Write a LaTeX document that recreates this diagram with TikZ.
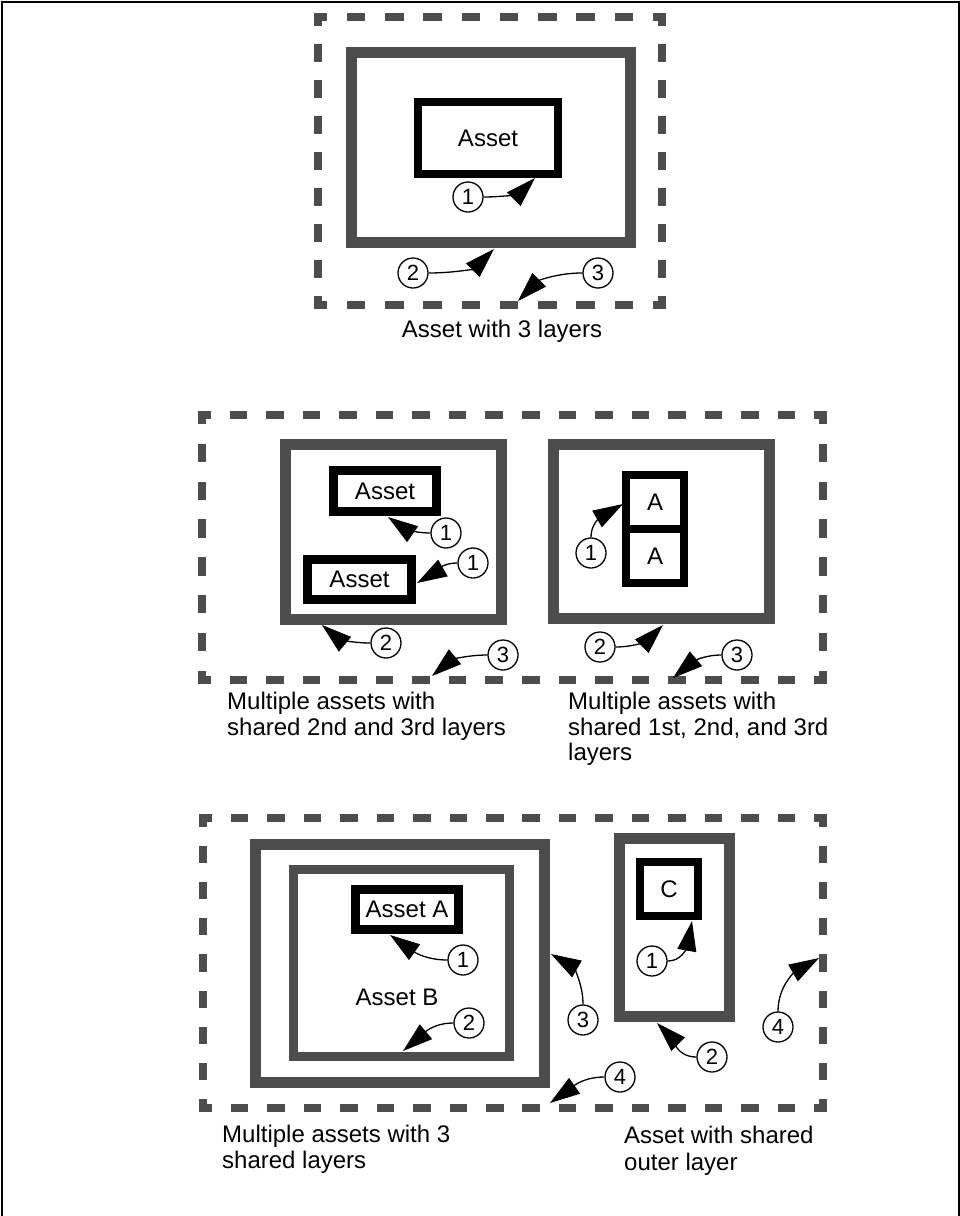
\documentclass[tikz,border=0pt]{standalone}
\usepackage{fontspec}
\setmainfont{Liberation Sans}
\usetikzlibrary{arrows.meta}
\definecolor{layergray}{HTML}{4D4D4D}
\tikzset{
  layer/.style={draw=layergray, line width=11pt, line join=miter},
  thinlayer/.style={draw=layergray, line width=9pt, line join=miter},
  assetbox/.style={draw=black, line width=#1, inner sep=0pt, font=\fontsize{24}{28}\selectfont},
  assetbox/.default=8pt,
  num/.style={draw=black, circle, line width=1.3pt, minimum size=30pt, inner sep=0pt, fill=white, font=\fontsize{22}{24}\selectfont},
  pointer/.style={draw=black, line width=1.3pt, -{Triangle[length=30pt 0 0, width=19pt 0 0]}},
  caption/.style={font=\fontsize{24}{26}\selectfont, inner sep=0pt},
  capline/.style={caption, anchor=base west},
  dashedge/.style={draw=layergray, line width=8pt, line cap=rect},
}
\newcommand\dside[3]{%
  \pgfmathsetmacro\dsd{0.48*#3-8}%
  \pgfmathsetmacro\dsg{0.52*#3+8}%
  \pgfmathsetmacro\dsp{0.24*#3-4}%
  \draw[dashedge, dash pattern=on \dsd pt off \dsg pt, dash phase=\dsp pt] #1 -- #2;}
\newcommand\dbox[6]{% x1 y1 x2 y2 periodH periodV
  \dside{(#1,#2)}{(#3,#2)}{#5}
  \dside{(#1,#4)}{(#3,#4)}{#5}
  \dside{(#1,#2)}{(#1,#4)}{#6}
  \dside{(#3,#2)}{(#3,#4)}{#6}}
\begin{document}
\begin{tikzpicture}[x=1pt, y=-1pt]
\useasboundingbox (0,0) rectangle (960,1216);
% page frame
\draw[line width=2pt] (2,1216) -- (2,2) -- (959,2) -- (959,1216);

% ===== Top: asset with 3 layers =====
\dbox{318}{17}{662}{305}{38.222}{36}
\draw[layer] (351.5,52.5) rectangle (630.5,242.5);
\node[assetbox, minimum width=140pt, minimum height=72pt] (a0) at (488,138) {Asset};
\node[num] (t1) at (468,197) {1};
\node[num] (t2) at (413,273) {2};
\node[num] (t3) at (598,273) {3};
\coordinate (t1p) at (535,178);
\coordinate (t2p) at (494,249);
\coordinate (t3p) at (518,301);
\draw[pointer] (t1.east) to[out=0, in=225] (t1p);
\draw[pointer] (t2.east) to[out=0, in=225] (t2p);
\draw[pointer] (t3.west) to[out=180, in=45] (t3p);
\node[caption, anchor=base] (cap0) at (502,337) {Asset with 3 layers};

% ===== Middle =====
\dbox{202}{415}{823}{680}{36.529}{37.857}
\draw[layer] (285.5,444.5) rectangle (501.5,619.5);
\node[assetbox=9pt, minimum width=103pt, minimum height=41pt] (au) at (385,491) {Asset};
\node[assetbox=9pt, minimum width=104pt, minimum height=40pt] (al) at (359.5,579.5) {Asset};
\node[num] (m1a) at (446,533) {1};
\node[num] (m1b) at (473,563) {1};
\node[num] (m2) at (386,643) {2};
\node[num] (m3) at (503,655) {3};
\coordinate (m1ap) at (388,517);
\coordinate (m1bp) at (417,583);
\coordinate (m2p) at (322,625);
\coordinate (m3p) at (432,676);
\draw[pointer] (m1a.west) to[out=180, in=-35] (m1ap);
\draw[pointer] (m1b.west) to[out=180, in=30] (m1bp);
\draw[pointer] (m2.west) to[out=180, in=-40] (m2p);
\draw[pointer] (m3.west) to[out=180, in=40] (m3p);

\draw[layer] (553.5,444.5) rectangle (769.5,618.5);
\node[assetbox, minimum width=58pt, minimum height=54pt] (aa1) at (655,502) {A};
\node[assetbox, minimum width=58pt, minimum height=54pt] (aa2) at (655,556) {A};
\node[num] (n1) at (591,553) {1};
\node[num] (n2) at (600,647) {2};
\node[num] (n3) at (737,655) {3};
\coordinate (n1p) at (623,504);
\coordinate (n2p) at (663,625);
\coordinate (n3p) at (673,678);
\draw[pointer] (n1.north) to[out=90, in=210] (n1p);
\draw[pointer] (n2.east) to[out=0, in=225] (n2p);
\draw[pointer] (n3.west) to[out=180, in=40] (n3p);

\node[capline] (cap1a) at (227,709) {Multiple assets with};
\node[capline] (cap1b) at (227,735) {shared 2nd and 3rd layers};
\node[capline] (cap2a) at (568,709) {Multiple assets with};
\node[capline] (cap2b) at (568,735) {shared 1st, 2nd, and 3rd};
\node[capline] (cap2c) at (568,760) {layers};

% ===== Bottom =====
\dbox{203}{818}{823}{1108}{36.471}{36.25}
\draw[layer] (255.5,844.5) rectangle (544.5,1082.5);
\draw[thinlayer] (293.5,869.5) rectangle (509.5,1056.5);
\node[assetbox=9pt, minimum width=103pt, minimum height=40pt] (aA) at (407,909.5) {Asset A};
\node[caption] (aB) at (397,997) {Asset B};
\node[num] (b1) at (463,960) {1};
\node[num] (b2) at (469,1023) {2};
\node[num] (b3) at (583,1020) {3};
\node[num] (b4) at (620,1077) {4};
\coordinate (b1p) at (390,935);
\coordinate (b2p) at (403,1051);
\coordinate (b3p) at (551,954);
\coordinate (b4p) at (550,1103);
\draw[pointer] (b1.west) to[out=180, in=-35] (b1p);
\draw[pointer] (b2.west) to[out=180, in=40] (b2p);
\draw[pointer] (b3.north) to[out=90, in=-30] (b3p);
\draw[pointer] (b4.west) to[out=180, in=35] (b4p);

\draw[layer] (619.5,838.5) rectangle (729.5,1016.5);
\node[assetbox, minimum width=58pt, minimum height=54pt] (aC) at (669,889) {C};
\node[num] (r1) at (652,961) {1};
\node[num] (r2) at (712,1057) {2};
\node[num] (r4) at (778,1027) {4};
\coordinate (r1p) at (692,921);
\coordinate (r2p) at (657,1023);
\coordinate (r4p) at (819,958);
\draw[pointer] (r1.east) to[out=0, in=260] (r1p);
\draw[pointer] (r2.west) to[out=180, in=-45] (r2p);
\draw[pointer] (r4.north) to[out=90, in=210] (r4p);

\node[capline] (cap3a) at (222,1142) {Multiple assets with 3};
\node[capline] (cap3b) at (222,1168) {shared layers};
\node[capline] (cap4a) at (624,1143) {Asset with shared};
\node[capline] (cap4b) at (624,1170) {outer layer};
\end{tikzpicture}
\end{document}
